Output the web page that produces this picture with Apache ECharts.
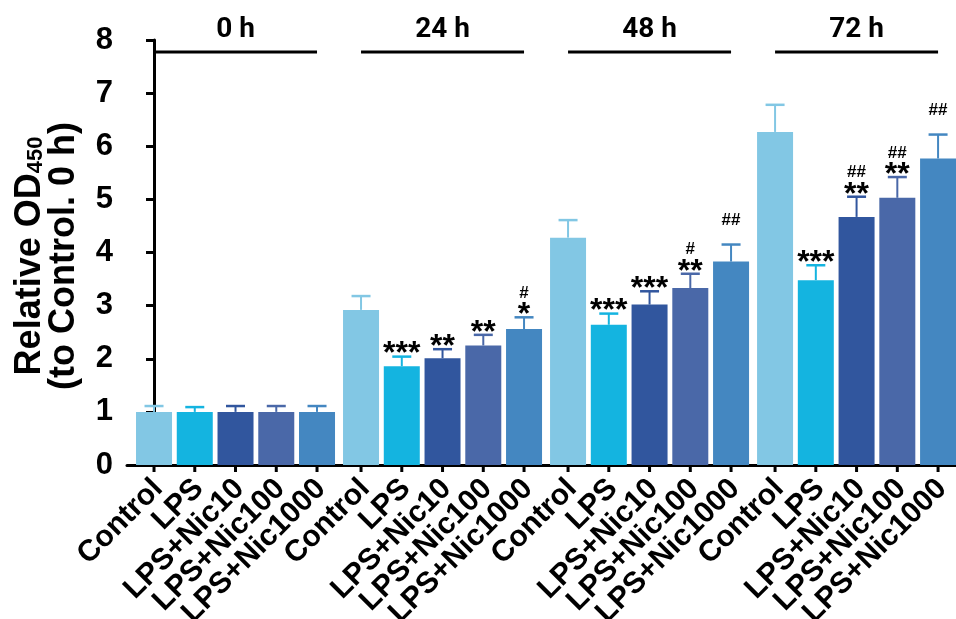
<!DOCTYPE html>
<html>
<head>
<meta charset="utf-8">
<script src="https://cdn.jsdelivr.net/npm/echarts@6.0.0/dist/echarts.min.js"></script>
<style>
  html, body { margin: 0; padding: 0; background: #ffffff; }
  #chart { width: 956px; height: 619px; }
</style>
</head>
<body>
<div id="chart"></div>
<script>
// Time points (groups) and treatments (bars within each group)
const timePoints = ['0 h', '24 h', '48 h', '72 h'];
const treatments = ['Control', 'LPS', 'LPS+Nic10', 'LPS+Nic100', 'LPS+Nic1000'];

// Mean relative OD450 per treatment, one value per time point
const controlMean = [1.00, 2.92, 4.28, 6.27];
const lpsMean     = [1.00, 1.86, 2.64, 3.48];
const nic10Mean   = [1.00, 2.01, 3.02, 4.67];
const nic100Mean  = [1.00, 2.25, 3.33, 5.03];
const nic1000Mean = [1.00, 2.56, 3.83, 5.77];

// Upper error (SD) per treatment
const controlSD = [0.11, 0.26, 0.33, 0.51];
const lpsSD     = [0.09, 0.18, 0.21, 0.28];
const nic10SD   = [0.11, 0.17, 0.25, 0.38];
const nic100SD  = [0.11, 0.20, 0.27, 0.39];
const nic1000SD = [0.11, 0.22, 0.32, 0.45];

// Significance marks: * vs Control, # vs LPS
const controlStars = ['', '', '', ''];
const lpsStars     = ['', '***', '***', '***'];
const nic10Stars   = ['', '**', '***', '**'];
const nic100Stars  = ['', '**', '**', '**'];
const nic1000Stars = ['', '*', '', ''];

const controlHash = ['', '', '', ''];
const lpsHash     = ['', '', '', ''];
const nic10Hash   = ['', '', '', '##'];
const nic100Hash  = ['', '', '#', '##'];
const nic1000Hash = ['', '#', '##', '##'];

// Y axis ticks
const yTicks = [0, 1, 2, 3, 4, 5, 6, 7, 8];

const barColors = ['#82C7E4', '#14B4E0', '#31569E', '#4A68A8', '#4487C1'];

const means = [controlMean, lpsMean, nic10Mean, nic100Mean, nic1000Mean];
const sds = [controlSD, lpsSD, nic10SD, nic100SD, nic1000SD];
const stars = [controlStars, lpsStars, nic10Stars, nic100Stars, nic1000Stars];
const hashes = [controlHash, lpsHash, nic10Hash, nic100Hash, nic1000Hash];

// Slot layout along the x axis: 5 bars per group plus a small gap between groups
const GROUP_STEP = 5.08;
const slot = (g, k) => g * GROUP_STEP + k;

const barData = [];
const errData = [];
const markData = [];
const labelData = [];
timePoints.forEach((t, g) => {
  treatments.forEach((name, k) => {
    const x = slot(g, k);
    barData.push({ value: [x, means[k][g]], itemStyle: { color: barColors[k] } });
    errData.push([x, means[k][g], means[k][g] + sds[k][g], k]);
    markData.push([x, means[k][g] + sds[k][g], stars[k][g], hashes[k][g]]);
    labelData.push([x, 0, name]);
  });
});
const headerData = timePoints.map((t, g) => [slot(g, 0), slot(g, 4), t]);

const FONT = '"Liberation Sans", Arial, Helvetica, sans-serif';

const chart = echarts.init(document.getElementById('chart'), null, { renderer: 'canvas' });

chart.setOption({
  animation: false,
  backgroundColor: '#ffffff',
  grid: { left: 127, right: 0, top: 40, bottom: 154, containLabel: false },
  xAxis: {
    type: 'value',
    min: -0.663,
    max: 19.68,
    axisLine: { show: true, onZero: false, lineStyle: { color: '#000', width: 3 } },
    axisTick: { show: false },
    axisLabel: { show: false },
    splitLine: { show: false }
  },
  yAxis: {
    type: 'value',
    min: yTicks[0],
    max: yTicks[yTicks.length - 1],
    interval: 1,
    axisLine: { show: true, lineStyle: { color: '#000', width: 3 } },
    axisTick: { show: true, length: 8, lineStyle: { color: '#000', width: 3 } },
    axisLabel: { color: '#000', fontSize: 31, fontWeight: 'bold', fontFamily: FONT, margin: 14 },
    splitLine: { show: false }
  },
  graphic: [{
    type: 'text',
    x: 47,
    y: 256,
    rotation: Math.PI / 2,
    style: {
      text: '{t|Relative OD}{s|450}\n{t|(to Control. 0 h)}',
      align: 'center',
      verticalAlign: 'middle',
      fill: '#000',
      rich: {
        t: { fontSize: 36, fontWeight: 'bold', fontFamily: FONT, lineHeight: 34, fill: '#000' },
        s: { fontSize: 22, fontWeight: 'bold', fontFamily: FONT, lineHeight: 20, verticalAlign: 'bottom', fill: '#000' }
      }
    }
  }],
  series: [
    {
      type: 'bar',
      name: 'OD450',
      data: barData,
      barWidth: 36,
      itemStyle: { borderWidth: 0 }
    },
    {
      type: 'custom',
      name: 'error',
      clip: false,
      data: errData,
      encode: { x: 0, y: [1, 2] },
      renderItem: (params, api) => {
        const x = api.value(0);
        const base = api.coord([x, api.value(1)]);
        const top = api.coord([x, api.value(2)]);
        const color = barColors[api.value(3)];
        const half = 9.5;
        return {
          type: 'group',
          children: [
            { type: 'line', shape: { x1: base[0], y1: base[1], x2: top[0], y2: top[1] },
              style: { stroke: color, lineWidth: 2 } },
            { type: 'line', shape: { x1: top[0] - half, y1: top[1], x2: top[0] + half, y2: top[1] },
              style: { stroke: color, lineWidth: 2.5 } }
          ]
        };
      }
    },
    {
      type: 'custom',
      name: 'significance',
      clip: false,
      data: markData,
      encode: { x: 0, y: 1 },
      renderItem: (params, api) => {
        const item = markData[params.dataIndex];
        const p = api.coord([item[0], item[1]]);
        const children = [];
        if (item[2]) {
          children.push({
            type: 'text', x: p[0], y: p[1] - 2,
            style: { text: item[2], fill: '#000', font: 'bold 32px ' + FONT,
                     align: 'center', verticalAlign: 'middle', textAlign: 'center', textVerticalAlign: 'middle' }
          });
        }
        if (item[3]) {
          children.push({
            type: 'text', x: p[0], y: p[1] - 24,
            style: { text: item[3], fill: '#000', font: 'bold 17px ' + FONT,
                     align: 'center', verticalAlign: 'middle', textAlign: 'center', textVerticalAlign: 'middle' }
          });
        }
        return { type: 'group', children };
      }
    },
    {
      type: 'custom',
      name: 'categories',
      clip: false,
      data: labelData,
      encode: { x: 0, y: 1 },
      renderItem: (params, api) => {
        const item = labelData[params.dataIndex];
        const p = api.coord([item[0], 0]);
        return {
          type: 'group',
          children: [
            { type: 'line', shape: { x1: p[0], y1: p[1], x2: p[0], y2: p[1] + 7 },
              style: { stroke: '#000', lineWidth: 3 } },
            { type: 'text', x: p[0] + 4, y: p[1] + 19, rotation: Math.PI / 4,
              style: { text: item[2], fill: '#000', font: 'bold 30px ' + FONT,
                       align: 'right', verticalAlign: 'middle', textAlign: 'right', textVerticalAlign: 'middle' } }
          ]
        };
      }
    },
    {
      type: 'custom',
      name: 'groups',
      clip: false,
      data: headerData,
      encode: { x: [0, 1] },
      renderItem: (params, api) => {
        const item = headerData[params.dataIndex];
        const a = api.coord([item[0], 8]);
        const b = api.coord([item[1], 8]);
        const lineY = a[1] + 12;
        return {
          type: 'group',
          children: [
            { type: 'line', shape: { x1: a[0], y1: lineY, x2: b[0], y2: lineY },
              style: { stroke: '#000', lineWidth: 3 } },
            { type: 'text', x: (a[0] + b[0]) / 2, y: a[1] - 10,
              style: { text: item[2], fill: '#000', font: 'bold 28px Roboto, ' + FONT,
                       align: 'center', verticalAlign: 'middle', textAlign: 'center', textVerticalAlign: 'middle' } }
          ]
        };
      }
    }
  ]
});
</script>
</body>
</html>
